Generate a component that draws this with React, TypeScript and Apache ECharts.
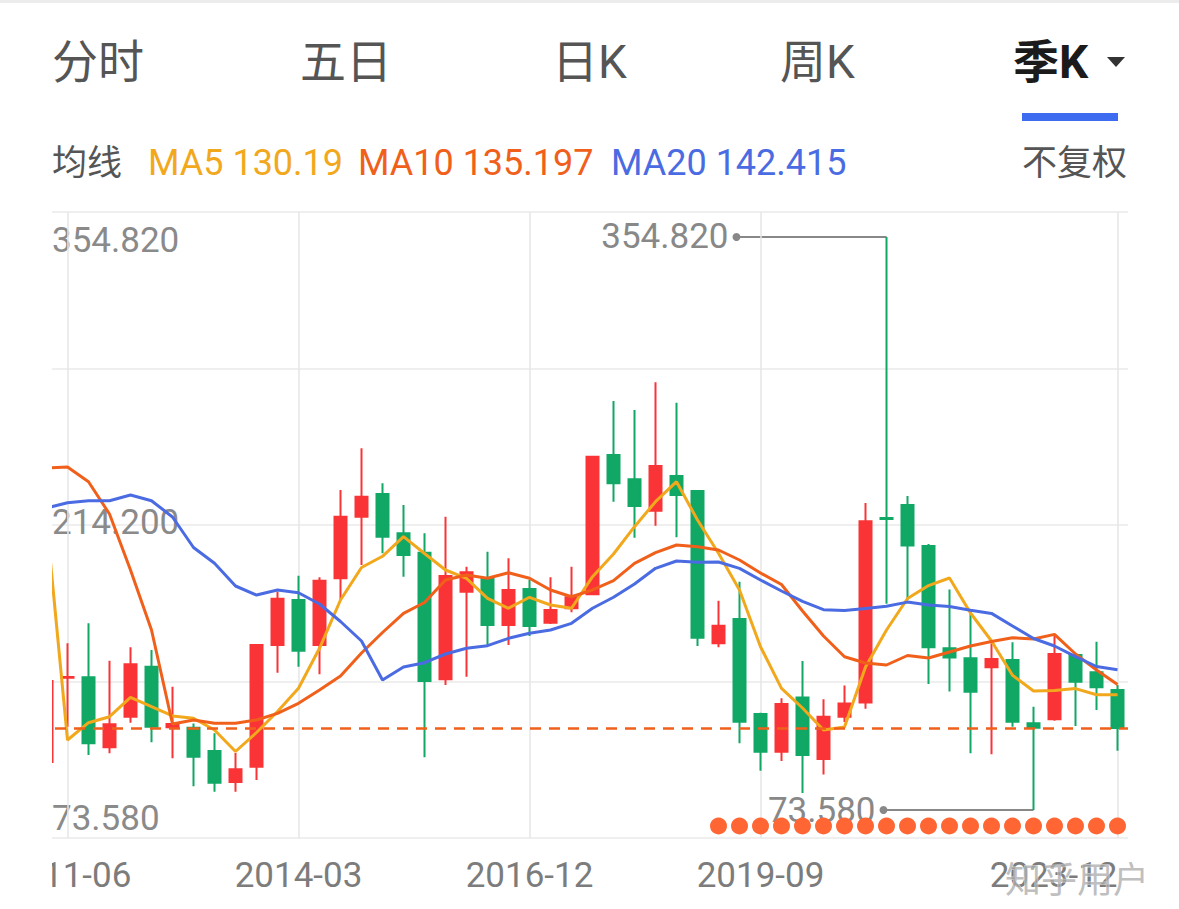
import React, { useEffect, useRef } from 'react';
import * as echarts from 'echarts';

const categories = [
  '2011-03', '2011-06', '2011-09', '2011-12', '2012-03', '2012-06', '2012-09', '2012-12',
  '2013-03', '2013-06', '2013-09', '2013-12', '2014-03', '2014-06', '2014-09', '2014-12',
  '2015-03', '2015-06', '2015-09', '2015-12', '2016-03', '2016-06', '2016-09', '2016-12',
  '2017-03', '2017-06', '2017-09', '2017-12', '2018-03', '2018-06', '2018-09', '2018-12',
  '2019-03', '2019-06', '2019-09', '2019-12', '2020-03', '2020-06', '2020-09', '2020-12',
  '2021-03', '2021-06', '2021-09', '2021-12', '2022-03', '2022-06', '2022-09', '2022-12',
  '2023-03', '2023-06', '2023-09', '2023-12',
];

const opens = [
  97.14, 138.52, 138.71, 104.36, 119.37, 143.91, 114.17, 113.98, 102.54, 87.32,
  94.83, 154.56, 176.65, 154.56, 187.3, 217.53, 228.67, 209.39, 199.86, 137.73,
  180.72, 187.3, 164.38, 182.05, 165.51, 172.58, 179.45, 247.82, 235.89, 220.48,
  237.51, 230.15, 155.4, 167.32, 120.7, 102.2, 128.8, 98.61, 119.33, 126.29,
  216.9, 223.28, 203.15, 152.94, 148.04, 143.62, 147.2, 116.13, 118.1, 149.66,
  141.17, 132.48,
];
const closes = [
  136.9, 138.86, 106.32, 115.64, 145.09, 114.47, 115.79, 99.74, 86.98, 93.56,
  154.56, 177.29, 151.77, 186.12, 217.53, 227.35, 207.72, 198.74, 136.9, 188.43,
  190.25, 164.38, 181.56, 163.89, 171.74, 177.98, 246.98, 233.93, 222.79, 242.42,
  228.18, 158.15, 164.04, 116.92, 102.2, 125.61, 100.58, 119.33, 125.8, 215.28,
  216.41, 203.35, 153.44, 148.48, 131.64, 147.69, 116.92, 113.98, 150.15, 136.55,
  133.8, 113.8,
];
const lows = [
  97.14, 114.47, 100.58, 101.41, 116.43, 106.81, 98.96, 85.21, 82.56, 82.56,
  88.31, 140.97, 143.91, 140.18, 176.65, 193.83, 199.57, 188.09, 99.45, 134.93,
  139.01, 154.07, 154.56, 158.98, 164.87, 170.61, 179.1, 224.9, 207.23, 213.12,
  207.42, 154.07, 153.44, 106.32, 92.87, 97.63, 81.93, 91.01, 116.77, 123.3,
  174.8, 176.8, 135.47, 131.69, 101.41, 100.92, 114.47, 73.58, 117.41, 114.81,
  122.66, 102.69,
];
const highs = [
  136.9, 155.4, 165.21, 146.86, 153.44, 152.11, 134.1, 116.04, 111.23, 101.56,
  155.05, 180.72, 188.58, 187.79, 230.64, 251.1, 233.93, 223.28, 209.39, 217.53,
  192.99, 200.36, 197.12, 186.47, 187.79, 192.99, 247.33, 274.32, 269.9, 283.5,
  273.48, 230.64, 176.31, 185.63, 121.34, 128.4, 146.71, 127.91, 134.69, 224.26,
  354.82, 227.69, 204.13, 181.8, 170.12, 155.4, 155.89, 124.28, 159.47, 150.15,
  156.18, 134.93,
];

const ma5 = [
  215.91, 107.94, 116.43, 119.37, 128.89, 124.28, 119.72, 118.59, 112.85, 102.29,
  111.62, 121.93, 133.31, 152.94, 176.65, 192.6, 198.1, 207.72, 199.47, 191.37,
  187.3, 177.48, 172.58, 177.98, 174.2, 172.58, 188.09, 199.23, 212.63, 224.9,
  234.71, 215.91, 199.57, 181.56, 153.73, 133.31, 123.64, 112.85, 114.32, 143.77,
  161.93, 177.39, 183.72, 187.45, 170.27, 156.53, 139.69, 131.99, 132.23, 133.16,
  130.17, 130.19,
];
const ma10 = [
  241.44, 241.93, 234.71, 218.86, 191.37, 161.93, 115.79, 117.75, 116.13, 116.13,
  117.75, 121.04, 125.95, 132.48, 139.35, 150.64, 160.7, 170.12, 175.42, 186.47,
  188.92, 187.3, 190.05, 187.3, 181.56, 178.27, 181.56, 186.12, 194.66, 199.86,
  203.64, 202.81, 201.19, 196.28, 189.9, 184.26, 171.25, 158.98, 148.82, 145.73,
  144.75, 149.41, 148.18, 151.13, 154.07, 156.28, 158.1, 157.51, 159.77, 150.15,
  142.29, 135.197,
];
const ma20 = [
  221.8, 224.4, 225.39, 225.39, 228.18, 225.39, 217.39, 202.42, 194.66, 183.52,
  179.1, 181.56, 180.23, 174.69, 166.1, 156.53, 137.39, 143.77, 145.88, 150.15,
  152.94, 154.22, 157.85, 160.31, 161.93, 165.21, 172.58, 177.98, 184.5, 192.21,
  195.79, 195.15, 195.3, 192.16, 186.47, 181.07, 176.01, 171.89, 171.5, 172.53,
  173.56, 175.62, 174.2, 173.46, 171.6, 170.07, 163.89, 157.75, 154.07, 148.82,
  144.01, 142.415,
];

const eventFlags = [
  0, 0, 0, 0, 0, 0, 0, 0, 0, 0, 0, 0, 0, 0, 0, 0, 0, 0, 0, 0,
  0, 0, 0, 0, 0, 0, 0, 0, 0, 0, 0, 0, 1, 1, 1, 1, 1, 1, 1, 1,
  1, 1, 1, 1, 1, 1, 1, 1, 1, 1, 1, 1,
];

const xLabels = ['2011-06', '2014-03', '2016-12', '2019-09', '2023-12'];
const tabs = ['分时', '五日', '日K', '周K', '季K'];
const maNames = ['MA5', 'MA10', 'MA20'];
const maLegendValues = ['130.19', '135.197', '142.415'];
const maColors = ['#F2A81C', '#F0601B', '#4A6BE2'];

const UP = '#FA3436';
const DOWN = '#11A765';
const FONT = 'Roboto, "Noto Sans CJK SC", sans-serif';

export default function App() {
  const ref = useRef<HTMLDivElement>(null);

  useEffect(() => {
    if (!ref.current) return;
    const chart = echarts.init(ref.current, null, { renderer: 'svg' });

    const hiVal = Math.max(...highs);
    const loVal = Math.min(...lows);
    const hiIdx = highs.indexOf(hiVal);
    const loIdx = lows.indexOf(loVal);
    const midVal = (hiVal + loVal) / 2;
    const lastClose = closes[closes.length - 1];

    const gridTop = 212;
    const gridBottom = 71;

    const tabX = [52, 300, 552, 780, 1013];
    const maX = [148, 358, 611];

    const staticGraphics: any[] = [
      { id: 'topband', type: 'rect', z: 10, shape: { x: 0, y: 0, width: 1179, height: 3 }, style: { fill: '#ECECEC' } },
      ...tabs.map((t, i) => ({
        id: 'tab' + i,
        type: 'text',
        z: 10,
        x: tabX[i],
        y: 62,
        style: {
          text: t,
          fill: i === tabs.length - 1 ? '#1b1b1b' : '#555555',
          fontSize: 46,
          fontWeight: i === tabs.length - 1 ? 'bold' : 'normal',
          fontFamily: FONT,
          verticalAlign: 'middle',
        },
      })),
      { id: 'tri', type: 'polygon', z: 10, shape: { points: [[1107, 57], [1125, 57], [1116, 67]] }, style: { fill: '#333333' } },
      { id: 'tabbar', type: 'rect', z: 10, shape: { x: 1022, y: 113, width: 96, height: 8 }, style: { fill: '#3E6CF0' } },
      { id: 'junxian', type: 'text', z: 10, x: 52, y: 163, style: { text: '均线', fill: '#555555', fontSize: 35, fontFamily: FONT, verticalAlign: 'middle' } },
      ...maNames.map((n, i) => ({
        id: 'ma' + i,
        type: 'text',
        z: 10,
        x: maX[i],
        y: 163,
        style: { text: n + ' ' + maLegendValues[i], fill: maColors[i], fontSize: 36, fontFamily: FONT, verticalAlign: 'middle' },
      })),
      { id: 'fuquan', type: 'text', z: 10, x: 1127, y: 163, style: { text: '不复权', fill: '#555555', fontSize: 35, fontFamily: FONT, align: 'right', verticalAlign: 'middle' } },
      { id: 'clip', type: 'rect', z: 100, shape: { x: 0, y: 200, width: 52, height: 709 }, style: { fill: '#ffffff' } },
      { id: 'ylab0', type: 'text', z: 1, x: 52, y: gridTop + 28, style: { text: hiVal.toFixed(3), fill: '#8a8a8a', fontSize: 35, fontFamily: FONT, verticalAlign: 'middle' } },
      { id: 'ylab1', type: 'text', z: 1, x: 52, y: 522, style: { text: midVal.toFixed(3), fill: '#8a8a8a', fontSize: 35, fontFamily: FONT, verticalAlign: 'middle' } },
      { id: 'ylab2', type: 'text', z: 1, x: 52, y: 909 - gridBottom - 20, style: { text: loVal.toFixed(3), fill: '#8a8a8a', fontSize: 35, fontFamily: FONT, verticalAlign: 'middle' } },
      { id: 'wm', type: 'text', z: 120, x: 1005, y: 877, style: { text: '知乎用户', fill: 'rgba(170,170,170,0.75)', stroke: 'rgba(255,255,255,0.6)', lineWidth: 1, fontSize: 36, fontFamily: '"Noto Sans CJK SC"', verticalAlign: 'middle' } },
    ];

    const option: any = {
      animation: false,
      backgroundColor: '#ffffff',
      grid: { left: 36, right: 51, top: gridTop, bottom: gridBottom },
      xAxis: {
        type: 'category',
        data: categories,
        boundaryGap: true,
        axisLine: { show: false },
        axisTick: { show: false },
        splitLine: { show: false },
        axisLabel: {
          interval: (_i: number, v: string) => xLabels.includes(v),
          color: '#7c7c7c',
          fontSize: 35,
          fontFamily: FONT,
          margin: 20,
          alignMaxLabel: 'right',
        },
      },
      yAxis: [
        { type: 'value', min: 59.84, max: 367.08, show: false, scale: true },
        {
          type: 'value',
          min: 0,
          max: 4,
          interval: 1,
          axisLabel: { show: false },
          axisLine: { show: false },
          axisTick: { show: false },
          splitLine: { show: true, lineStyle: { color: '#EAEAEA', width: 1.5 } },
        },
      ],
      series: [
        {
          type: 'candlestick',
          data: opens.map((o, i) => [o, closes[i], lows[i], highs[i]]),
          barWidth: 13,
          itemStyle: { color: UP, color0: DOWN, borderColor: UP, borderColor0: DOWN, borderWidth: 2 },
          markLine: {
            silent: true,
            symbol: 'none',
            z: 5,
            label: { show: false },
            lineStyle: { color: '#F0601B', type: [11, 8], width: 2.5 },
            data: [{ yAxis: lastClose }],
          },
        },
        ...[ma5, ma10, ma20].map((d, i) => ({
          type: 'line',
          name: maNames[i],
          data: d,
          symbol: 'none',
          smooth: false,
          z: 3,
          lineStyle: { color: maColors[i], width: 3 },
        })),
        {
          type: 'scatter',
          yAxisIndex: 1,
          data: eventFlags.map((f) => (f ? 0 : '-')),
          symbol: 'circle',
          symbolSize: 17,
          symbolOffset: [0, -12],
          clip: false,
          z: 4,
          itemStyle: { color: '#FF6633', opacity: 1 },
          markLine: {
            silent: true,
            symbol: 'none',
            z: 1,
            label: { show: false },
            lineStyle: { color: '#E6E6E6', type: 'solid', width: 1.5 },
            data: xLabels.map((c) => ({ xAxis: c })),
          },
        },
      ],
      graphic: { elements: staticGraphics },
    };

    chart.setOption(option);

    const [hx, hy] = chart.convertToPixel({ seriesIndex: 0 }, [hiIdx, hiVal]) as number[];
    const [lx, ly] = chart.convertToPixel({ seriesIndex: 0 }, [loIdx, loVal]) as number[];
    const lead = 150;
    const annColor = '#888888';
    const ann: any[] = [
      { id: 'hiLine', type: 'line', z: 1, shape: { x1: hx - lead, y1: hy, x2: hx, y2: hy }, style: { stroke: annColor, lineWidth: 2 } },
      { id: 'hiDot', type: 'circle', z: 1, shape: { cx: hx - lead, cy: hy, r: 4 }, style: { fill: annColor } },
      { id: 'hiText', type: 'text', z: 1, x: hx - lead - 8, y: hy, style: { text: hiVal.toFixed(3), fill: annColor, fontSize: 35, fontFamily: FONT, align: 'right', verticalAlign: 'middle' } },
      { id: 'loLine', type: 'line', z: 1, shape: { x1: lx - lead, y1: ly, x2: lx, y2: ly }, style: { stroke: annColor, lineWidth: 2 } },
      { id: 'loDot', type: 'circle', z: 1, shape: { cx: lx - lead, cy: ly, r: 4 }, style: { fill: annColor } },
      { id: 'loText', type: 'text', z: 1, x: lx - lead - 8, y: ly, style: { text: loVal.toFixed(3), fill: annColor, fontSize: 35, fontFamily: FONT, align: 'right', verticalAlign: 'middle' } },
    ];
    chart.setOption({ graphic: { elements: [...staticGraphics, ...ann] } });

    return () => chart.dispose();
  }, []);

  return (
    <div
      ref={ref}
      style={{ position: 'absolute', left: 0, top: 0, width: 1179, height: 909, background: '#fff' }}
    />
  );
}
